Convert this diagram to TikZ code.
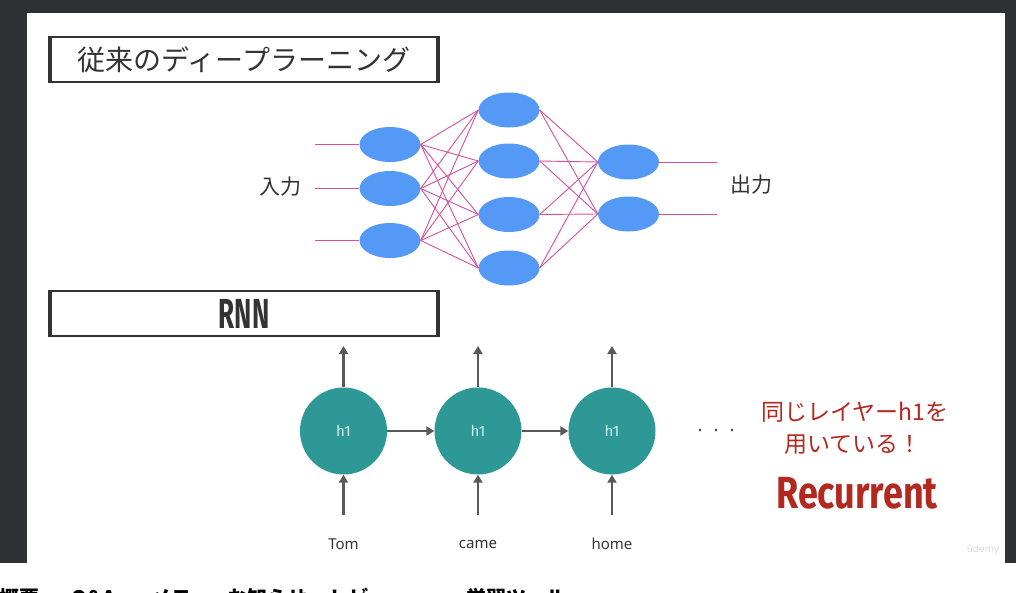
\documentclass[tikz,border=0pt]{standalone}
\usepackage{fontspec}
\usepackage{tikz}
\usetikzlibrary{shapes.geometric, arrows.meta, positioning}
\setmainfont{Noto Sans}
\setsansfont{Fira Sans}
\newfontfamily\jpfont{Noto Sans CJK JP}
\newfontfamily\condfont{Fira Sans}[FakeStretch=0.62]
\newfontfamily\recfont{Fira Sans}[FakeStretch=0.8]
\definecolor{FrameGray}{HTML}{2E3033}
\definecolor{NodeBlue} {HTML}{5599F7}
\definecolor{LinkPink} {HTML}{D6519A}
\definecolor{CellTeal} {HTML}{2E9896}
\definecolor{CellText} {HTML}{CFF0EE}
\definecolor{ArrowGray}{HTML}{595959}
\definecolor{TextRed}  {HTML}{B3291F}
\definecolor{InkGray}  {HTML}{333333}

\begin{document}
\begin{tikzpicture}[
  x=1pt, y=-1pt,
  titlebox/.style = {draw=InkGray, line width=2.4pt, minimum width=386pt,
                     minimum height=45pt, inner sep=0pt, text=InkGray},
  neuron/.style   = {ellipse, fill=NodeBlue, minimum width=61pt,
                     minimum height=35pt, inner sep=0pt},
  cell/.style     = {circle, fill=CellTeal, minimum size=87pt, inner sep=0pt,
                     text=CellText, font=\sffamily\fontsize{15}{15}\selectfont},
  link/.style     = {LinkPink, line width=0.9pt},
  arr/.style      = {-{Triangle[length=8pt, width=9pt]}, ArrowGray, line width=2.6pt},
  word/.style     = {text=InkGray, font=\fontsize{15}{15}\selectfont},
  lbl/.style      = {text=InkGray, font=\jpfont\fontsize{21}{21}\selectfont},
  redlbl/.style   = {text=TextRed, font=\jpfont\fontsize{23}{23}\selectfont},
  dot/.style      = {circle, fill=InkGray, minimum size=2.6pt, inner sep=0pt},
  tab/.style      = {anchor=base west, text=black, font=\jpfont\bfseries\fontsize{20}{20}\selectfont},
]
\useasboundingbox (0,0) rectangle (1016,592);
\fill[FrameGray] (0,0) rectangle (1016,563);
\fill[white] (27,13) rectangle (1005,563);
\fill[white] (0,563) rectangle (1016,592);

% title boxes
\node[titlebox, font=\jpfont\fontsize{28}{28}\selectfont] (deep) at (244,59.5)
  {従来のディープラーニング};
\draw[InkGray, line width=4.5pt] (deep.north west) -- (deep.south west);
\draw[InkGray, line width=4pt]   (deep.north east) -- (deep.south east);
\node[titlebox, font=\condfont\bfseries\fontsize{42}{42}\selectfont] (rnn) at (244,313.5)
  {RNN};
\draw[InkGray, line width=4.5pt] (rnn.north west) -- (rnn.south west);
\draw[InkGray, line width=4pt]   (rnn.north east) -- (rnn.south east);

% feed-forward network
\node[neuron] (a1) at (390,144.5) {};
\node[neuron] (a2) at (390,188.5) {};
\node[neuron] (a3) at (390,240.5) {};
\node[neuron] (b1) at (509,110)   {};
\node[neuron] (b2) at (509,161)   {};
\node[neuron] (b3) at (509,214.5) {};
\node[neuron] (b4) at (509,268)   {};
\node[neuron] (c1) at (628.5,162) {};
\node[neuron] (c2) at (628.5,214) {};
\coordinate (in1)  at (315,144.5);
\coordinate (in2)  at (315,188.5);
\coordinate (in3)  at (315,240.5);
\coordinate (out1) at (717,162);
\coordinate (out2) at (717,214);
\foreach \i in {1,2,3} {
  \draw[link] (in\i) -- (a\i.west);
  \foreach \j in {1,...,4}
    \draw[link] (a\i.east) -- (b\j.west);
}
\foreach \j in {1,...,4}
  \foreach \k in {1,2}
    \draw[link] (b\j.east) -- (c\k.west);
\draw[link] (c1.east) -- (out1);
\draw[link] (c2.east) -- (out2);
\node[lbl] (inlbl)  at (280,187) {入力};
\node[lbl] (outlbl) at (751,185) {出力};

% recurrent cells
\node[cell] (h1) at (343.5,431) {h1};
\node[cell] (h2) at (478,431)   {h1};
\node[cell] (h3) at (612,431)   {h1};
\node[word] (tom)  at (343.5,544) {Tom};
\node[word] (came) at (478,544)   {came};
\node[word] (home) at (612,544)   {home};
\coordinate (up1) at (343.5,346);
\coordinate (up2) at (478,346);
\coordinate (up3) at (612,346);
\coordinate (x1)  at (343.5,515);
\coordinate (x2)  at (478,515);
\coordinate (x3)  at (612,515);
\draw[arr] (h1.north) -- (up1);
\draw[arr] (h2.north) -- (up2);
\draw[arr] (h3.north) -- (up3);
\draw[arr] (x1) -- (h1.south);
\draw[arr] (x2) -- (h2.south);
\draw[arr] (x3) -- (h3.south);
\draw[arr] (h1.east) -- (h2.west);
\draw[arr] (h2.east) -- (h3.west);
\node[dot] (d1) at (700,430) {};
\node[dot] (d2) at (716,430) {};
\node[dot] (d3) at (732,430) {};

% note
\node[redlbl] (same) at (855,412) {同じレイヤーh1を};
\node[redlbl] (use)  at (853,445) {用いている！};
\node[text=TextRed, font=\recfont\bfseries\fontsize{45}{45}\selectfont] (recur) at (857,493)
  {Recurrent};
\node[text=black!14, font=\bfseries\fontsize{10}{10}\selectfont] (udemy) at (983,550) {ûdemy};

% page tabs (cut off)
\begin{scope}
\clip (0,563) rectangle (1016,592);
\node[tab] (tab1) at (-4,605)  {概要};
\node[tab] (tab2) at (68,605)  {Q\&A};
\node[tab] (tab3) at (148,605) {メモ};
\node[tab] (tab4) at (224,605) {お知らせ};
\node[tab] (tab5) at (326,605) {レビュー};
\node[tab] (tab6) at (463,605) {学習ツール};
\end{scope}
\end{tikzpicture}
\end{document}
